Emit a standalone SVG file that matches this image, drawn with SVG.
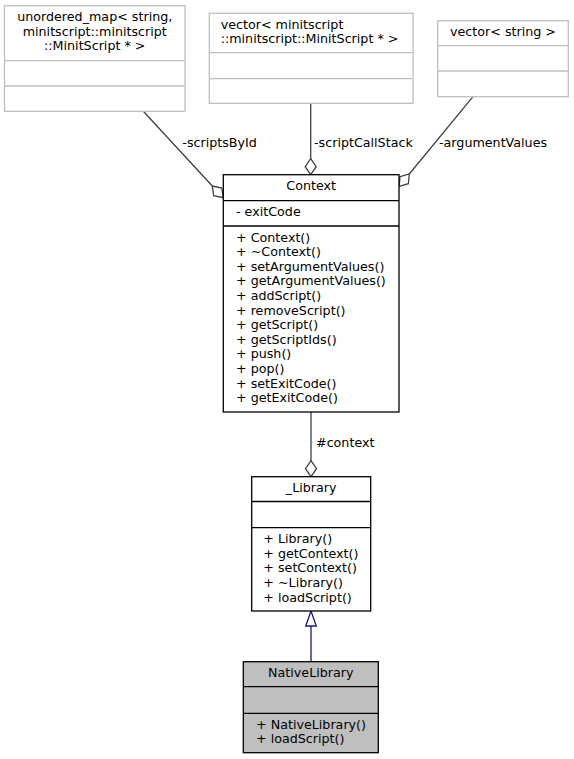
<svg xmlns="http://www.w3.org/2000/svg" width="574" height="759" viewBox="0 0 574 759">
<style>
  text { font-family: "DejaVu Sans", "Liberation Sans", sans-serif; font-size: 12.7px; fill: #000; }
  .c { text-anchor: middle; }
  .ext rect, .ext line { fill: #fff; stroke: #bfbfbf; stroke-width: 1.3; }
  .cls rect { fill: #fff; stroke: #000; stroke-width: 1.3; }
  .cls line { stroke: #000; stroke-width: 1.3; }
  .cur rect { fill: #bfbfbf; stroke: #000; stroke-width: 1.3; }
  .cur line { stroke: #000; stroke-width: 1.3; }
  .e { stroke: #404040; stroke-width: 1.3; fill: none; }
  .dia { stroke: #404040; stroke-width: 1.3; fill: #fff; }
  .inh { stroke: #191970; stroke-width: 1.3; fill: none; }
  .tri { stroke: #191970; stroke-width: 1.3; fill: #fff; }
</style>

<g id="connectors">
  <line class="e" x1="143.3" y1="111.3" x2="212.3" y2="186"/>
  <polygon class="dia" points="212.3,186 221.8,188.1 223.2,197.7 213.7,195.6"/>
  <text x="182.3" y="146.7">-scriptsById</text>

  <line class="e" x1="310.7" y1="103.3" x2="310.7" y2="158.7"/>
  <polygon class="dia" points="310.7,158.7 316.2,166.7 310.7,174.7 305.2,166.7"/>
  <text x="314" y="146.7">-scriptCallStack</text>

  <line class="e" x1="473" y1="96.7" x2="409.3" y2="174"/>
  <polygon class="dia" points="409.3,174 408.4,183.7 399.1,186.4 400,176.7"/>
  <text x="439" y="146.7">-argumentValues</text>

  <line class="e" x1="311" y1="412" x2="311" y2="460.7"/>
  <polygon class="dia" points="311,460.7 316.5,468.7 311,476.7 305.5,468.7"/>
  <text x="316" y="446.7">#context</text>

  <line class="inh" x1="311" y1="626" x2="311" y2="661.7"/>
  <polygon class="tri" points="311,611 316.3,626 305.7,626"/>
</g>

<g id="node-unordered_map" class="ext">
  <rect x="4.5" y="5.7" width="180.5" height="105.6"/>
  <line x1="4.5" y1="60.7" x2="185" y2="60.7"/>
  <line x1="4.5" y1="86" x2="185" y2="86"/>
  <text class="c" x="94.75" y="21.2">unordered_map&lt; string,</text>
  <text class="c" x="94.75" y="35.8">minitscript::minitscript</text>
  <text class="c" x="94.75" y="50.4">::MinitScript * &gt;</text>
</g>

<g id="node-vector-minitscript" class="ext">
  <rect x="209.3" y="13.3" width="203.7" height="90"/>
  <line x1="209.3" y1="52.7" x2="413" y2="52.7"/>
  <line x1="209.3" y1="78.7" x2="413" y2="78.7"/>
  <text x="220.7" y="28.8">vector&lt; minitscript</text>
  <text x="220.7" y="43.4">::minitscript::MinitScript * &gt;</text>
</g>

<g id="node-vector-string" class="ext">
  <rect x="437.7" y="20.7" width="130.6" height="76"/>
  <line x1="437.7" y1="45.7" x2="568.3" y2="45.7"/>
  <line x1="437.7" y1="71" x2="568.3" y2="71"/>
  <text class="c" x="503" y="36.2">vector&lt; string &gt;</text>
</g>

<g id="node-Context" class="cls">
  <rect x="223.3" y="174.7" width="175.7" height="237.3"/>
  <line x1="223.3" y1="200.7" x2="399" y2="200.7"/>
  <line x1="223.3" y1="226" x2="399" y2="226"/>
  <text class="c" x="311.2" y="190.2">Context</text>
  <text x="236" y="216.2">- exitCode</text>
  <text x="236" y="241.5">+ Context()</text>
  <text x="236" y="256.1">+ ~Context()</text>
  <text x="236" y="270.7">+ setArgumentValues()</text>
  <text x="236" y="285.3">+ getArgumentValues()</text>
  <text x="236" y="299.9">+ addScript()</text>
  <text x="236" y="314.5">+ removeScript()</text>
  <text x="236" y="329.1">+ getScript()</text>
  <text x="236" y="343.7">+ getScriptIds()</text>
  <text x="236" y="358.3">+ push()</text>
  <text x="236" y="372.9">+ pop()</text>
  <text x="236" y="387.5">+ setExitCode()</text>
  <text x="236" y="402.1">+ getExitCode()</text>
</g>

<g id="node-Library" class="cls">
  <rect x="251.7" y="476.7" width="119" height="134.3"/>
  <line x1="251.7" y1="501.5" x2="370.7" y2="501.5"/>
  <line x1="251.7" y1="527.7" x2="370.7" y2="527.7"/>
  <text class="c" x="311.2" y="492.2">_Library</text>
  <text x="263.3" y="543.2">+ Library()</text>
  <text x="263.3" y="557.8">+ getContext()</text>
  <text x="263.3" y="572.4">+ setContext()</text>
  <text x="263.3" y="587">+ ~Library()</text>
  <text x="263.3" y="601.6">+ loadScript()</text>
</g>

<g id="node-NativeLibrary" class="cur">
  <rect x="243.3" y="661.7" width="135" height="91"/>
  <line x1="243.3" y1="686.7" x2="378.3" y2="686.7"/>
  <line x1="243.3" y1="713.3" x2="378.3" y2="713.3"/>
  <text class="c" x="310.8" y="677.2">NativeLibrary</text>
  <text x="256" y="728.8">+ NativeLibrary()</text>
  <text x="256" y="743.4">+ loadScript()</text>
</g>
</svg>
